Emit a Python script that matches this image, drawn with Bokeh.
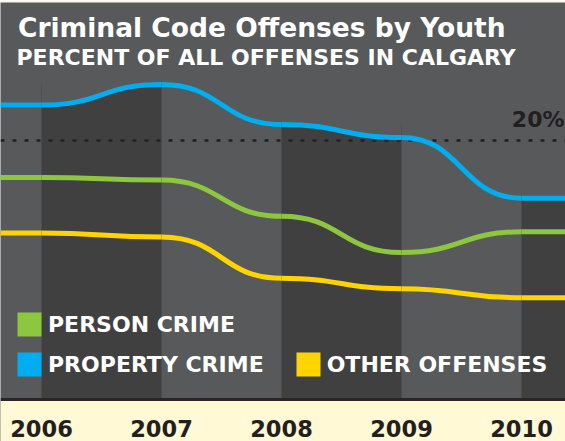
from bokeh.plotting import figure
from bokeh.models import ColumnDataSource, Range1d, Label, Legend, LegendItem, BoxAnnotation
from bokeh.core.properties import value
from bokeh.embed import file_html
from bokeh.resources import INLINE

# ---- data ----
years = [2006, 2007, 2008, 2009, 2010]
year_labels = ["2006", "2007", "2008", "2009", "2010"]
property_crime = [22.7, 24.3, 21.2, 20.2, 15.5]
person_crime = [17.1, 16.9, 14.1, 11.3, 12.9]
other_offenses = [12.8, 12.5, 9.3, 8.5, 7.8]
ref_value = 20
ref_label = "20%"
series_names = ["PERSON CRIME", "PROPERTY CRIME", "OTHER OFFENSES"]
title_text = "Criminal Code Offenses by Youth"
subtitle_text = "PERCENT OF ALL OFFENSES IN CALGARY"

# ---- layout / style ----
W, H = 565, 441
TOP = 2
X0, X1 = 2005.6583, 2010.3667
Y0, Y1 = -3.327, 30.64
PX_PER_UNIT = (H - TOP) / (Y1 - Y0)

PANEL = "#58595B"
BAND = "#404041"
CREAM = "#FFF9D6"
INK = "#231F20"
RULE = "#2A2625"
GREEN = "#8DC63F"
BLUE = "#00AEEF"
YELLOW = "#FFD400"
FONT = "DejaVu Sans"
LW = 5

p = figure(width=W, height=H, x_range=Range1d(X0, X1), y_range=Range1d(Y0, Y1),
           output_backend="svg", toolbar_location=None,
           x_axis_type=None, y_axis_type=None,
           min_border_left=0, min_border_right=0, min_border_top=TOP, min_border_bottom=0,
           background_fill_color=PANEL, border_fill_color=CREAM, outline_line_color=None)
p.grid.visible = False

# cream strip under the panel
p.add_layout(BoxAnnotation(top=0, fill_color=CREAM, fill_alpha=1, line_color=None, level="underlay"))

# alternating dark bands reaching up to the property-crime curve
b_left, b_right, b_top = [], [], []
for i in range(0, len(years), 2):
    b_left.append(years[i])
    if i + 1 < len(years):
        b_right.append(years[i + 1])
        b_top.append(max(property_crime[i], property_crime[i + 1]))
    else:
        b_right.append(X1)
        b_top.append(property_crime[i])
p.quad(left=b_left, right=b_right, bottom=0, top=b_top, fill_color=BAND, line_color=None)

# trim the band tops along the curve (background-coloured stroke just above it)
COVER = 30
shift = COVER / 2 / PX_PER_UNIT
c = dict(x0=[], x1=[], cx=[], y0=[], y1=[])
for i in range(0, len(years) - 1, 2):
    c["x0"].append(years[i]); c["x1"].append(years[i + 1])
    c["cx"].append((years[i] + years[i + 1]) / 2)
    c["y0"].append(property_crime[i] + shift); c["y1"].append(property_crime[i + 1] + shift)
p.bezier(x0="x0", y0="y0", x1="x1", y1="y1", cx0="cx", cy0="y0", cx1="cx", cy1="y1",
         source=ColumnDataSource(c), line_color=PANEL, line_width=COVER)

# reference line and panel bottom rule
p.hspan(y=[ref_value], line_color=INK, line_width=2.5, line_dash="4 8")
p.hspan(y=[-1.2 / PX_PER_UNIT], line_color=RULE, line_width=3)


def draw_series(vals, color):
    src = ColumnDataSource(dict(
        x0=years[:-1], x1=years[1:],
        cx=[(a + b) / 2 for a, b in zip(years[:-1], years[1:])],
        y0=vals[:-1], y1=vals[1:]))
    p.bezier(x0="x0", y0="y0", x1="x1", y1="y1", cx0="cx", cy0="y0", cx1="cx", cy1="y1",
             source=src, line_color=color, line_width=LW)
    p.segment(x0=[X0, years[-1]], y0=[vals[0], vals[-1]], x1=[years[0], X1], y1=[vals[0], vals[-1]],
              line_color=color, line_width=LW)


draw_series(other_offenses, YELLOW)
draw_series(person_crime, GREEN)
draw_series(property_crime, BLUE)

# 20% label
p.text(x=[X1], y=[ref_value], text=[ref_label], text_align="right", text_baseline="alphabetic",
       x_offset=-1, y_offset=-20.5, text_font=value(FONT), text_font_style="bold",
       text_font_size="22px", text_color=INK)

# year labels
p.text(x=years, y=Y0, text=year_labels, text_align="center", text_baseline="alphabetic",
       y_offset=-13, text_font=value(FONT), text_font_style="bold",
       text_font_size="22.5px", text_color=INK)

# legend swatch renderers (zero-size, only their style is used by the legends)
r_green = p.quad(left=[X0], right=[X0], top=[Y0], bottom=[Y0], fill_color=GREEN, line_color=None)
r_blue = p.quad(left=[X0], right=[X0], top=[Y0], bottom=[Y0], fill_color=BLUE, line_color=None)
r_yellow = p.quad(left=[X0], right=[X0], top=[Y0], bottom=[Y0], fill_color=YELLOW, line_color=None)

leg1 = Legend(items=[LegendItem(label=series_names[0], renderers=[r_green])],
              location=(14, 102), orientation="vertical")
leg2 = Legend(items=[LegendItem(label=series_names[1], renderers=[r_blue]),
                     LegendItem(label=series_names[2], renderers=[r_yellow])],
              location=(14, 62), orientation="horizontal", spacing=29)
for leg in (leg1, leg2):
    leg.glyph_width = 30
    leg.glyph_height = 30
    leg.label_standoff = 4
    leg.padding = 0
    leg.margin = 0
    leg.background_fill_alpha = 0
    leg.border_line_alpha = 0
    leg.label_text_color = "white"
    leg.label_text_font = FONT
    leg.label_text_font_style = "bold"
    leg.label_text_font_size = "22px"
    p.add_layout(leg)

# titles
p.add_layout(Label(x=17.5, y=H - 27, x_units="screen", y_units="screen",
                   text=title_text, text_font=FONT, text_font_style="bold",
                   text_font_size="26.5px", text_color="white", text_baseline="alphabetic"))
p.add_layout(Label(x=16, y=H - 57, x_units="screen", y_units="screen",
                   text=subtitle_text, text_font=FONT, text_font_style="bold",
                   text_font_size="22px", text_color="white", text_baseline="alphabetic"))

open("out.html", "w").write(file_html(p, INLINE))
